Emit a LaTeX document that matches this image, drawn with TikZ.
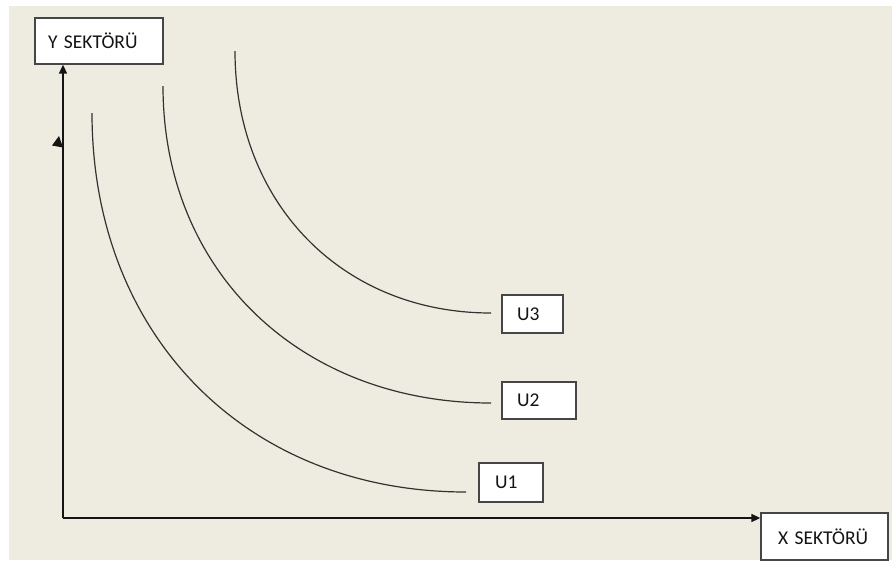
\documentclass[tikz,border=0pt]{standalone}
\usepackage{fontspec}
\setmainfont{Carlito}
\usetikzlibrary{arrows.meta}
\definecolor{paper}{RGB}{238,235,224}
\definecolor{ink}{RGB}{20,20,20}
\definecolor{frame}{RGB}{70,70,70}
\definecolor{curveink}{RGB}{50,50,50}
\begin{document}
\begin{tikzpicture}[x=1pt,y=-1pt,
  labelbox/.style={draw=frame, line width=1.3pt, fill=white, rectangle,
    align=left, inner ysep=0pt, font=\fontsize{19.5}{22}\selectfont, text=ink},
  axis/.style={draw=ink, line width=1.6pt, -{Triangle[length=9pt,width=8pt]}},
  indiff/.style={draw=curveink, line width=1.2pt}]
  % canvas
  \useasboundingbox (0,0) rectangle (892,563);
  \fill[white] (0,0) rectangle (892,563);
  \fill[paper] (9,6) rectangle (892,560);

  % axis labels
  \node[labelbox, minimum width=128pt, minimum height=46pt, inner xsep=13pt,
        text width=102pt] (ybox) at (99,41) {Y SEKTÖRÜ};
  \node[labelbox, minimum width=127pt, minimum height=47pt, inner xsep=17pt,
        text width=93pt] (xbox) at (824.5,536.5) {X SEKTÖRÜ};

  % curve labels
  \node[labelbox, minimum width=61pt, minimum height=38pt, inner xsep=15pt,
        text width=31pt] (u3) at (532.5,314) {U3};
  \node[labelbox, minimum width=74pt, minimum height=37pt, inner xsep=15pt,
        text width=44pt] (u2) at (539,400.5) {U2};
  \node[labelbox, minimum width=64pt, minimum height=39pt, inner xsep=16pt,
        text width=32pt] (u1) at (511,482.5) {U1};

  % axes
  \coordinate (origin) at (63,518);
  \draw[axis] (origin) -- (origin |- ybox.south);
  \draw[axis] (origin) -- (origin -| xbox.west);
  \fill[ink] (52,145.5) -- (59,136) -- (63,147.5) -- cycle;

  % indifference curves
  \coordinate (a1) at (92,113);  \coordinate (b1) at (466,492);
  \coordinate (a2) at (163,86);  \coordinate (b2) at (491,403);
  \coordinate (a3) at (235,51);  \coordinate (b3) at (491,313);
  \draw[indiff] (a1) .. controls (92,335) and (246,492) .. (b1);
  \draw[indiff] (a2) .. controls (163,272) and (301,403) .. (b2);
  \draw[indiff] (a3) .. controls (235,203) and (342,313) .. (b3);
\end{tikzpicture}
\end{document}
